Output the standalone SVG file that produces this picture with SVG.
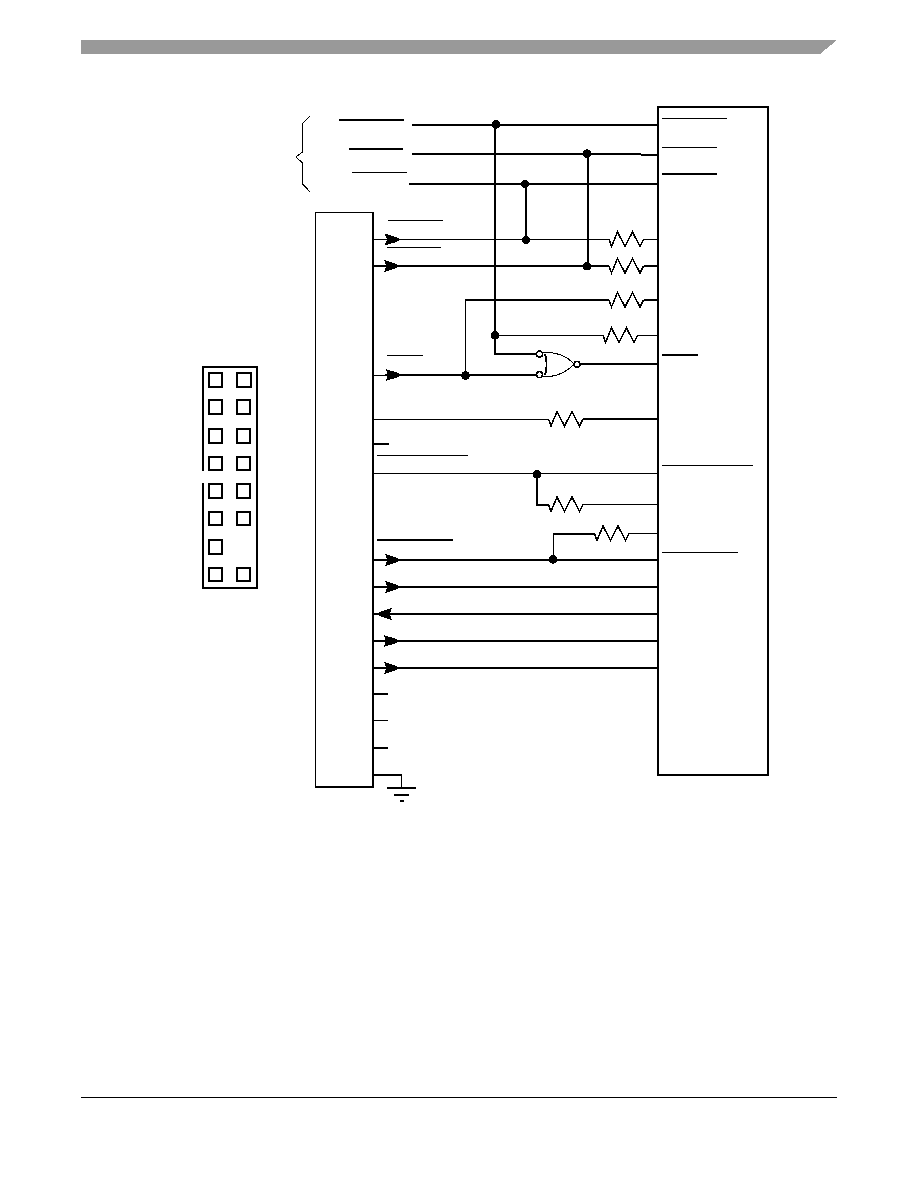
<svg xmlns="http://www.w3.org/2000/svg" xmlns:xlink="http://www.w3.org/1999/xlink" width="918" height="1188" viewBox="0 0 918 1188" shape-rendering="crispEdges">
<style>
.n{fill:none;stroke:#000;stroke-width:1}
.k{fill:none;stroke:#000;stroke-width:2}
.box{fill:#fff;stroke:#000;stroke-width:2}
.pin{fill:#fff;stroke:#000;stroke-width:2}
.d{fill:#000}
.b{fill:#fff;stroke:#000;stroke-width:1.500}
</style>
<defs>
<path id="res" d="M0 0L2.500 7L8.500-7.500L16 7L23.500-7.500L31 7L34.500 0" fill="none" stroke="#000" stroke-width="1.500"/>
<polygon id="arr" points="0,-6 10,-3 16,0 10,3 0,6 2.500,0" fill="#000"/>
<circle id="dot" r="4.300" fill="#000"/>
</defs>
<rect width="918" height="1188" fill="#fff"/>
<g id="header"><polygon points="81,40 837,40 820,54 81,54" fill="#999"/></g>
<g id="footer"><line x1="81" y1="1097.500" x2="837" y2="1097.500" stroke="#000" stroke-width="1"/></g>
<g id="brace"><path class="n" d="M309.700 116L302.500 123.500V152L296 157L302.500 163V184L309.700 191.500"/></g>
<g id="left-block"><path class="n" d="M315.500 787V212.500H373"/><path class="k" d="M373 212V788M315 787H374"/></g>
<g id="right-block"><rect class="box" x="658" y="107" width="110" height="668"/></g>
<g id="jtag-header">
<path class="k" d="M203 470.700V367H257V588H203V483"/>
<rect class="pin" x="208.500" y="373" width="13.500" height="13.500"/><rect class="pin" x="237" y="373" width="13.500" height="13.500"/>
<rect class="pin" x="208.500" y="400" width="13.500" height="13.500"/><rect class="pin" x="236.500" y="400" width="13.500" height="13.500"/>
<rect class="pin" x="208.500" y="429" width="13.500" height="13.500"/><rect class="pin" x="236.500" y="429" width="13.500" height="13.500"/>
<rect class="pin" x="208.500" y="456.500" width="13.500" height="13.500"/><rect class="pin" x="236.500" y="456.500" width="13.500" height="13.500"/>
<rect class="pin" x="208.500" y="484" width="13.500" height="13.500"/><rect class="pin" x="236.500" y="484" width="13.500" height="13.500"/>
<rect class="pin" x="208.500" y="511.500" width="13.500" height="13.500"/><rect class="pin" x="236.500" y="511.500" width="13.500" height="13.500"/>
<rect class="pin" x="208.500" y="540" width="13.500" height="13.500"/>
<rect class="pin" x="208.500" y="567.500" width="13.500" height="13.500"/><rect class="pin" x="236.500" y="567.500" width="13.500" height="13.500"/>
</g>
<g id="nor-gate">
<path class="n" d="M542 352C556 352 567 356 574 364C567 372 556 377 542 377"/>
<path class="k" d="M545 354C547 360 547 369 545 375"/>
<circle class="b" cx="539.500" cy="354" r="3"/>
<circle class="b" cx="539.500" cy="374.700" r="3"/>
<circle class="b" cx="577" cy="364.300" r="3"/>
</g>
<g id="connectors">
<path class="k" d="M412 125H657M412 154H641M641 155H657M409 184H657"/>
<path class="k" d="M495 125V354H536M526 184V240M588 154V266"/>
<path class="n" d="M373 239.500H609M643.500 239.500H657"/>
<path class="k" d="M373 266H609M643.500 266H657"/>
<path class="n" d="M465.500 300V375"/>
<path class="k" d="M465 300H609M643.500 300H657"/>
<path class="n" d="M495 335.500H603M637.500 335.500H657"/>
<path class="n" d="M373 375.500H385"/>
<path class="k" d="M385 375H536M580 364H657"/>
<path class="n" d="M373 419.500H548"/>
<path class="k" d="M583 419H657"/>
<path class="k" d="M373 444H389"/>
<path class="n" d="M373 473.500H657"/>
<path class="k" d="M537 474V505H548"/>
<path class="n" d="M583 504.500H657"/>
<path class="n" d="M553.500 533.500V560M628 533.500H657"/>
<path class="k" d="M553 534H595"/>
<path class="k" d="M373 560H657M373 587H657M373 614H657M373 641H657M373 668H657"/>
<path class="k" d="M373 694H388M373 748H388M373 775H402"/>
<path class="n" d="M373 720.500H388M401.500 775V788"/>
<path class="k" d="M387 788H416M394 795H409"/>
<path d="M400 801H404" stroke="#000" stroke-width="2" fill="none"/>
<use xlink:href="#res" href="#res" x="609" y="239.500"/>
<use xlink:href="#res" href="#res" x="609" y="266"/>
<use xlink:href="#res" href="#res" x="609" y="300"/>
<use xlink:href="#res" href="#res" x="603" y="335.500"/>
<use xlink:href="#res" href="#res" x="548.500" y="419"/>
<use xlink:href="#res" href="#res" x="548.500" y="504.500"/>
<use xlink:href="#res" href="#res" x="594.500" y="533.500"/>
<use xlink:href="#arr" href="#arr" x="384.500" y="239.500"/>
<use xlink:href="#arr" href="#arr" x="384" y="266"/>
<use xlink:href="#arr" href="#arr" x="385.500" y="375"/>
<use xlink:href="#arr" href="#arr" x="385" y="560"/>
<use xlink:href="#arr" href="#arr" x="385" y="587"/>
<use xlink:href="#arr" href="#arr" transform="translate(392 614) scale(-1 1)"/>
<use xlink:href="#arr" href="#arr" x="383.500" y="641"/>
<use xlink:href="#arr" href="#arr" x="384" y="668"/>
<use xlink:href="#dot" href="#dot" x="496" y="124.500"/>
<use xlink:href="#dot" href="#dot" x="587" y="153.700"/>
<use xlink:href="#dot" href="#dot" x="525" y="184"/>
<use xlink:href="#dot" href="#dot" x="526" y="240"/>
<use xlink:href="#dot" href="#dot" x="587" y="266.300"/>
<use xlink:href="#dot" href="#dot" x="495" y="335.500"/>
<use xlink:href="#dot" href="#dot" x="465.500" y="375.500"/>
<use xlink:href="#dot" href="#dot" x="537" y="474.500"/>
<use xlink:href="#dot" href="#dot" x="553" y="559.500"/>
</g>
<g id="signal-overbars">
<path class="k" d="M339 120H404M349 149H403M377 540H453M662 174H717M662 355H698"/>
<path class="n" d="M352 172.500H407M388 220.500H443M387 247.500H441M387 355.500H423M377 455.500H468M662 118.500H727M662 147.500H717M662 465.500H753M662 552.500H738"/>
</g>
</svg>
